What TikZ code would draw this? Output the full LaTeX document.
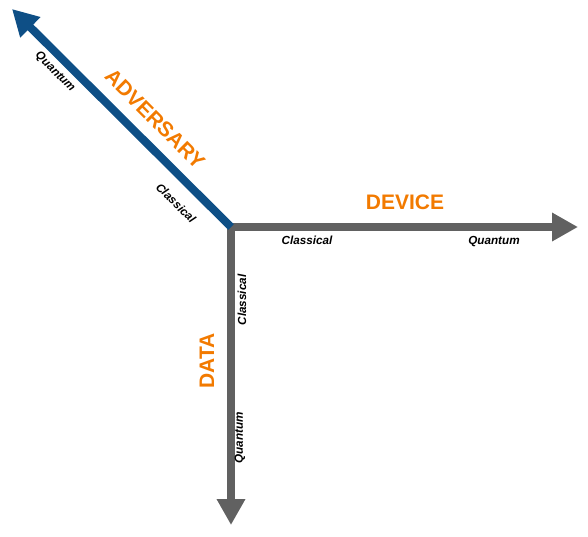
\documentclass[tikz,border=0pt]{standalone}
\usepackage{fontspec}
\setmainfont{Liberation Sans}
\usetikzlibrary{arrows.meta}

\definecolor{advblue}{RGB}{14,79,134}
\definecolor{axisgray}{RGB}{97,97,97}
\definecolor{titleorange}{RGB}{242,122,0}

\tikzset{
  axis/.style={line width=8pt,line cap=rect,-{Triangle[length=26pt,width=27pt]}},
  title/.style={text=titleorange,font=\fontsize{21}{21}\selectfont\bfseries,inner sep=0pt},
  level/.style={font=\fontsize{11.7}{12}\selectfont\bfseries\itshape,inner sep=0pt}
}

\begin{document}
\begin{tikzpicture}[x=1pt,y=-1pt]
				\useasboundingbox (0,0) rectangle (588,536);
				% the three axes
				\coordinate (o) at (231,227);
				\coordinate (device) at (578,227);
				\coordinate (data) at (231,525);
				\coordinate (adversary) at (12,9);
				\draw[axis,axisgray] (o) -- (device);
				\draw[axis,axisgray] (o) -- (data);
				\draw[axis,advblue,line cap=butt] (o) -- (adversary);
				% axis titles
				\node[title] (devtitle) at (405,202) {DEVICE};
				\node[title,rotate=90] (datatitle) at (207,361) {DATA};
				\node[title,rotate=-45] (advtitle) at (155,119) {ADVERSARY};
				% ends of the axes
				\node[level] (devc) at (307,240) {Classical};
				\node[level] (devq) at (494,242) {Quantum};
				\node[level,rotate=90] (datac) at (242,300) {Classical};
				\node[level,rotate=90] (dataq) at (240,438) {Quantum};
				\node[level,rotate=-45] (advc) at (176,203) {Classical};
				\node[level,rotate=-45] (advq) at (55,72) {Quantum};
\end{tikzpicture}
\end{document}
